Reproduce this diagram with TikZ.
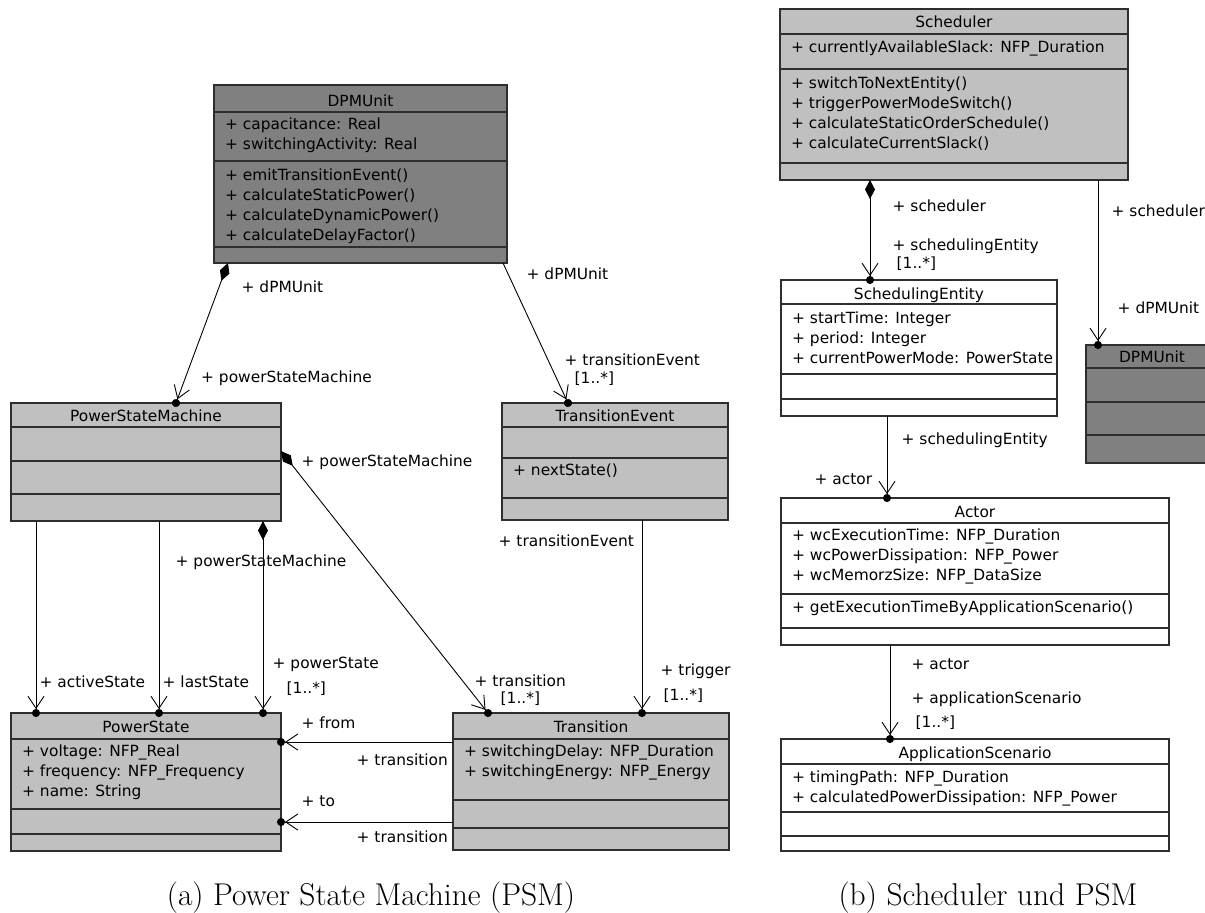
\documentclass[tikz,border=0pt]{standalone}
\usepackage{fontspec}
\usetikzlibrary{positioning,arrows.meta}
\newfontfamily\umlsans{DejaVu Sans}
\newcommand{\umlfont}{\umlsans\fontsize{15.4}{20}\selectfont}
\definecolor{ClassDark}{HTML}{808080}
\definecolor{ClassLight}{HTML}{C0C0C0}
\definecolor{Frame}{HTML}{2E2E2E}

\tikzset{
  cls/.style={draw=Frame, line width=1.4pt, anchor=north west, inner sep=0pt, outer sep=0pt},
  clsline/.style={draw=Frame, line width=1.4pt},
  ctitle/.style={anchor=base, inner sep=0pt, font=\umlfont},
  members/.style={anchor=north west, inner sep=0pt, align=left, font=\umlfont},
  role/.style={anchor=base west, inner sep=0pt, font=\umlfont},
  assoc/.style={line width=0.9pt, -{Straight Barb[length=12pt,width=16pt,sep=0pt]Circle[length=8pt]}, shorten >=-4pt},
  comp/.style={line width=0.9pt, {Diamond[length=19pt,width=10pt]}-{Straight Barb[length=12pt,width=16pt,sep=0pt]Circle[length=8pt]}, shorten >=-4pt},
  caption/.style={anchor=base, inner sep=0pt, font=\fontsize{31.5}{38}\selectfont},
}

\begin{document}
\begin{tikzpicture}[x=1pt, y=-1pt]
\useasboundingbox (0,0) rectangle (1205,913);
\clip (0,0) rectangle (1205,913);

% power state machine classes
\node[cls, fill=ClassDark, minimum width=293pt, minimum height=178pt] (dpm) at (214,85) {};
\foreach \s in {27,76,162} \draw[clsline] ([yshift=-\s]dpm.north west) -- ([yshift=-\s]dpm.north east);
\node[ctitle] (dpmT) at ([yshift=-21pt]dpm.north) {DPMUnit};
\node[members] (dpmA) at ([xshift=11pt,yshift=-30.3pt]dpm.north west) {\strut+ capacitance: Real\\+ switchingActivity: Real};
\node[members] (dpmO) at ([xshift=11pt,yshift=-81pt]dpm.north west) {\strut+ emitTransitionEvent()\\+ calculateStaticPower()\\+ calculateDynamicPower()\\+ calculateDelayFactor()};

\node[cls, fill=ClassLight, minimum width=270pt, minimum height=118pt] (psm) at (11,403) {};
\foreach \s in {24,58,91} \draw[clsline] ([yshift=-\s]psm.north west) -- ([yshift=-\s]psm.north east);
\node[ctitle] (psmT) at ([yshift=-18.7pt]psm.north) {PowerStateMachine};

\node[cls, fill=ClassLight, minimum width=226pt, minimum height=117pt] (tev) at (502,403) {};
\foreach \s in {24,55,95} \draw[clsline] ([yshift=-\s]tev.north west) -- ([yshift=-\s]tev.north east);
\node[ctitle] (tevT) at ([yshift=-18.7pt]tev.north) {TransitionEvent};
\node[members] (tevO) at ([xshift=11pt,yshift=-58pt]tev.north west) {\strut+ nextState()};

\node[cls, fill=ClassLight, minimum width=270pt, minimum height=138pt] (ps) at (11,713) {};
\foreach \s in {26,96,121} \draw[clsline] ([yshift=-\s]ps.north west) -- ([yshift=-\s]ps.north east);
\node[ctitle] (psT) at ([yshift=-19.7pt]ps.north) {PowerState};
\node[members] (psA) at ([xshift=11pt,yshift=-29.7pt]ps.north west) {\strut+ voltage: NFP\_Real\\+ frequency: NFP\_Frequency\\+ name: String};

\node[cls, fill=ClassLight, minimum width=276pt, minimum height=137pt] (trans) at (453,713) {};
\foreach \s in {26,87,115} \draw[clsline] ([yshift=-\s]trans.north west) -- ([yshift=-\s]trans.north east);
\node[ctitle] (transT) at ([yshift=-19.3pt]trans.north) {Transition};
\node[members] (transA) at ([xshift=11pt,yshift=-29.7pt]trans.north west) {\strut+ switchingDelay: NFP\_Duration\\+ switchingEnergy: NFP\_Energy};

% scheduler classes
\node[cls, fill=ClassLight, minimum width=348pt, minimum height=171pt] (sched) at (780,9) {};
\foreach \s in {25,60,154} \draw[clsline] ([yshift=-\s]sched.north west) -- ([yshift=-\s]sched.north east);
\node[ctitle] (schedT) at ([yshift=-18.5pt]sched.north) {Scheduler};
\node[members] (schedA) at ([xshift=11pt,yshift=-29.7pt]sched.north west) {\strut+ currentlyAvailableSlack: NFP\_Duration};
\node[members] (schedO) at ([xshift=11pt,yshift=-65.3pt]sched.north west) {\strut+ switchToNextEntity()\\+ triggerPowerModeSwitch()\\+ calculateStaticOrderSchedule()\\+ calculateCurrentSlack()};

\node[cls, fill=white, minimum width=276pt, minimum height=136pt] (sent) at (781,280) {};
\foreach \s in {24,94,119} \draw[clsline] ([yshift=-\s]sent.north west) -- ([yshift=-\s]sent.north east);
\node[ctitle] (sentT) at ([yshift=-19.3pt]sent.north) {SchedulingEntity};
\node[members] (sentA) at ([xshift=11pt,yshift=-29.3pt]sent.north west) {\strut+ startTime: Integer\\+ period: Integer\\+ currentPowerMode: PowerState};

\node[cls, fill=ClassDark, minimum width=132pt, minimum height=118pt] (dpmb) at (1086,345) {};
\foreach \s in {23,57,90} \draw[clsline] ([yshift=-\s]dpmb.north west) -- ([yshift=-\s]dpmb.north east);
\node[ctitle] (dpmbT) at ([yshift=-17.7pt]dpmb.north) {DPMUnit};

\node[cls, fill=white, minimum width=388pt, minimum height=147pt] (actor) at (781,498) {};
\foreach \s in {25,96,130} \draw[clsline] ([yshift=-\s]actor.north west) -- ([yshift=-\s]actor.north east);
\node[ctitle] (actorT) at ([yshift=-19.3pt]actor.north) {Actor};
\node[members] (actorA) at ([xshift=11pt,yshift=-28.7pt]actor.north west) {\strut+ wcExecutionTime: NFP\_Duration\\+ wcPowerDissipation: NFP\_Power\\+ wcMemorzSize: NFP\_DataSize};
\node[members] (actorO) at ([xshift=11pt,yshift=-100.7pt]actor.north west) {\strut+ getExecutionTimeByApplicationScenario()};

\node[cls, fill=white, minimum width=388pt, minimum height=112pt] (scen) at (781,739) {};
\foreach \s in {25,73,97} \draw[clsline] ([yshift=-\s]scen.north west) -- ([yshift=-\s]scen.north east);
\node[ctitle] (scenT) at ([yshift=-19.3pt]scen.north) {ApplicationScenario};
\node[members] (scenA) at ([xshift=11pt,yshift=-29.3pt]scen.north west) {\strut+ timingPath: NFP\_Duration\\+ calculatedPowerDissipation: NFP\_Power};

% associations (a)
\draw[comp] ([xshift=14pt]dpm.south west) -- ([xshift=165pt]psm.north west);
\draw[assoc] ([xshift=-4pt]dpm.south east) -- ([xshift=66pt]tev.north west);
\draw[comp] ([yshift=-48pt]psm.north east) -- ([xshift=35pt]trans.north west);
\draw[assoc] ([xshift=25pt]psm.south west) -- ([xshift=25pt]ps.north west);
\draw[assoc] ([xshift=148pt]psm.south west) -- ([xshift=148pt]ps.north west);
\draw[comp] ([xshift=252pt]psm.south west) -- ([xshift=252pt]ps.north west);
\draw[assoc] ([yshift=-29pt]trans.north west) -- ([yshift=-29pt]ps.north east);
\draw[assoc] ([yshift=-109pt]trans.north west) -- ([yshift=-109pt]ps.north east);
\draw[assoc] ([xshift=140pt]tev.south west) -- ([xshift=189pt]trans.north west);

\node[role] (r1) at (241.5,292) {+ dPMUnit};
\node[role] (r2) at (201,382) {+ powerStateMachine};
\node[role] (r3) at (526.5,279) {+ dPMUnit};
\node[role] (r4) at (564.5,365) {+ transitionEvent};
\node[role] (r5) at (574.5,383) {[1..*]};
\node[role] (r6) at (301.5,466) {+ powerStateMachine};
\node[role] (r7) at (474.5,686) {+ transition};
\node[role] (r8) at (500.5,703.5) {[1..*]};
\node[role] (r9) at (39.5,687) {+ activeState};
\node[role] (r10) at (162.5,687) {+ lastState};
\node[role] (r11) at (175.5,566.5) {+ powerStateMachine};
\node[role] (r12) at (272.5,668) {+ powerState};
\node[role] (r13) at (286.5,693) {[1..*]};
\node[role] (r14) at (301.5,728) {+ from};
\node[role] (r15) at (356.5,765) {+ transition};
\node[role] (r16) at (301.5,806) {+ to};
\node[role] (r17) at (356.5,842) {+ transition};
\node[role] (r18) at (498.5,546.5) {+ transitionEvent};
\node[role] (r19) at (660.5,675.5) {+ trigger};
\node[role] (r20) at (663.5,700.5) {[1..*]};

% associations (b)
\draw[comp] ([xshift=90pt]sched.south west) -- ([xshift=89pt]sent.north west);
\draw[assoc] ([xshift=318pt]sched.south west) -- ([xshift=12pt]dpmb.north west);
\draw[assoc] ([xshift=106pt]sent.south west) -- ([xshift=106pt]actor.north west);
\draw[assoc] ([xshift=109pt]actor.south west) -- ([xshift=109pt]scen.north west);

\node[role] (r21) at (892.5,211.5) {+ scheduler};
\node[role] (r22) at (892.5,250) {+ schedulingEntity};
\node[role] (r23) at (896.5,268) {[1..*]};
\node[role] (r24) at (1111.5,216.5) {+ scheduler};
\node[role] (r25) at (1117.5,313) {+ dPMUnit};
\node[role] (r26) at (901.5,444) {+ schedulingEntity};
\node[role] (r27) at (814.5,484) {+ actor};
\node[role] (r28) at (911.5,669) {+ actor};
\node[role] (r29) at (911.5,703) {+ applicationScenario};
\node[role] (r30) at (915.5,727) {[1..*]};

\node[caption] (capA) at (371,905) {(a) Power State Machine (PSM)};
\node[caption] (capB) at (988,905) {(b) Scheduler und PSM};
\end{tikzpicture}
\end{document}
